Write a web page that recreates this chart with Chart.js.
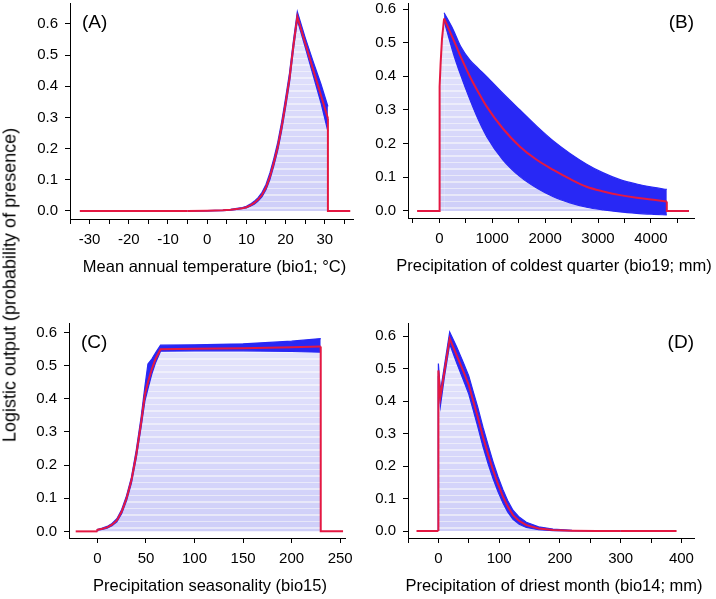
<!DOCTYPE html>
<html>
<head>
<meta charset="utf-8">
<script src="https://cdn.jsdelivr.net/npm/chart.js@4.4.1/dist/chart.umd.min.js"></script>
<style>
  body { margin: 0; background: #fff; }
  #wrap { position: relative; width: 716px; height: 599px; }
  canvas { position: absolute; }
  #ylab {
    position: absolute; left: 10px; top: 285px;
    transform: translate(-50%, -50%) rotate(-90deg);
    white-space: nowrap; color: #000;
    font: 18px Arial, "Liberation Sans", sans-serif;
  }
</style>
</head>
<body>
<div id="wrap">
  <canvas id="chartA" width="340" height="279" style="left:20px;top:0px"></canvas>
  <canvas id="chartB" width="358" height="278" style="left:358px;top:0px"></canvas>
  <canvas id="chartC" width="336" height="278" style="left:19px;top:320px"></canvas>
  <canvas id="chartD" width="358" height="278" style="left:358px;top:320px"></canvas>
  <div id="ylab">Logistic output (probability of presence)</div>
</div>
<script>
// (A) mean annual temperature
const xA = [-5, 0, 4, 6, 8, 9, 10, 11, 12, 13, 14, 15, 16, 17, 18, 19, 20, 21, 22, 23, 25, 27, 29, 30.8];
const meanA = [0, 0.0005, 0.002, 0.004, 0.007, 0.009, 0.012, 0.018, 0.026, 0.037, 0.052, 0.075, 0.11, 0.155, 0.205, 0.27, 0.345, 0.425, 0.53, 0.623, 0.538, 0.455, 0.372, 0.297];
const upperA = [0, 0.001, 0.003, 0.005, 0.009, 0.011, 0.015, 0.022, 0.031, 0.043, 0.06, 0.085, 0.122, 0.168, 0.22, 0.286, 0.362, 0.442, 0.546, 0.639, 0.556, 0.48, 0.408, 0.335];
const lowerA = [0, 0.0003, 0.001, 0.003, 0.006, 0.008, 0.01, 0.015, 0.022, 0.032, 0.046, 0.068, 0.101, 0.145, 0.194, 0.258, 0.332, 0.412, 0.518, 0.612, 0.526, 0.437, 0.348, 0.255];
const endsA = [-32.5, 36.5];
const xTicksA = [-35, -30, -25, -20, -15, -10, -5, 0, 5, 10, 15, 20, 25, 30, 35];
const xLabelsA = [-30, -20, -10, 0, 10, 20, 30];

// (B) precipitation of coldest quarter (first 6 points = steep rise up to the peak)
const xB = [0, 1, 10, 25, 50, 90, 265, 400, 580, 740, 896, 1200, 1525, 1840, 2155, 2470, 2785, 3100, 3416, 3730, 4050, 4300];
const meanB = [0, 0.30, 0.37, 0.44, 0.51, 0.572, 0.51, 0.46, 0.399, 0.352, 0.31, 0.245, 0.191, 0.152, 0.122, 0.095, 0.072, 0.058, 0.047, 0.039, 0.033, 0.028];
const upperB = [0, 0.31, 0.38, 0.45, 0.525, 0.589, 0.538, 0.49, 0.448, 0.423, 0.399, 0.35, 0.30, 0.252, 0.208, 0.171, 0.139, 0.113, 0.093, 0.08, 0.07, 0.064];
const lowerB = [0, 0.29, 0.36, 0.43, 0.50, 0.565, 0.468, 0.405, 0.33, 0.27, 0.221, 0.152, 0.102, 0.068, 0.042, 0.024, 0.011, 0.003, -0.003, -0.007, -0.01, -0.012];
const endsB = [-420, 4720];
const xTicksB = [-500, 0, 500, 1000, 1500, 2000, 2500, 3000, 3500, 4000, 4500];
const xLabelsB = [0, 1000, 2000, 3000, 4000];

// (C) precipitation seasonality
const xC = [0, 0, 5, 10, 15, 20, 25, 30, 35, 40, 45, 49, 52, 56, 60, 65, 100, 150, 200, 230];
const meanC = [0, 0.005, 0.008, 0.012, 0.02, 0.033, 0.06, 0.1, 0.154, 0.232, 0.328, 0.415, 0.45, 0.49, 0.522, 0.55, 0.551, 0.553, 0.556, 0.558];
const upperC = [0, 0.006, 0.01, 0.015, 0.024, 0.038, 0.066, 0.108, 0.163, 0.245, 0.345, 0.44, 0.505, 0.52, 0.54, 0.562, 0.563, 0.566, 0.574, 0.582];
const lowerC = [0, 0.004, 0.006, 0.01, 0.017, 0.029, 0.054, 0.093, 0.146, 0.222, 0.315, 0.395, 0.43, 0.475, 0.51, 0.544, 0.545, 0.545, 0.543, 0.541];
const endsC = [-22.4, 253];
const xTicksC = [0, 50, 100, 150, 200, 250];
const xLabelsC = [0, 50, 100, 150, 200, 250];

// (D) precipitation of driest month
const xD = [0, 0, 3.3, 10, 18.6, 30, 40.5, 50, 57, 65, 73.4, 82, 89.9, 98, 106.3, 114, 122.8, 133, 144.8, 165, 188.6, 220, 260, 300];
const meanD = [0, 0.495, 0.413, 0.492, 0.593, 0.542, 0.495, 0.45, 0.403, 0.35, 0.29, 0.235, 0.188, 0.145, 0.106, 0.076, 0.049, 0.031, 0.018, 0.008, 0.003, 0.001, 0, 0];
const upperD = [0, 0.516, 0.43, 0.51, 0.613, 0.568, 0.522, 0.478, 0.432, 0.38, 0.32, 0.264, 0.214, 0.168, 0.127, 0.094, 0.064, 0.043, 0.027, 0.013, 0.006, 0.002, 0.001, 0];
const lowerD = [0, 0.478, 0.385, 0.476, 0.576, 0.518, 0.468, 0.422, 0.375, 0.32, 0.26, 0.206, 0.162, 0.122, 0.086, 0.059, 0.036, 0.021, 0.011, 0.004, 0.001, 0, 0, 0];
const endsD = [-36, 392];
const xTicksD = [-50, 0, 50, 100, 150, 200, 250, 300, 350, 400];
const xLabelsD = [0, 100, 200, 300, 400];

const yTicks = [0, 0.1, 0.2, 0.3, 0.4, 0.5, 0.6];

const FONT = 'Arial, "Liberation Sans", sans-serif';
Chart.defaults.font.family = FONT;
Chart.defaults.color = '#000';

const RED = 'rgb(228, 24, 66)';
const BLUE = 'rgb(40, 40, 245)';

// panel letter and the (wide) x-axis title, drawn without the scale's width limit
const panelText = {
    id: 'panelText',
    afterDraw(chart, args, opts) {
        const { ctx, chartArea } = chart;
        ctx.save();
        ctx.fillStyle = '#000';
        ctx.textBaseline = 'middle';
        ctx.font = '19px ' + FONT;
        ctx.textAlign = opts.side;
        const x = opts.side === 'left' ? chartArea.left + 12 : chartArea.right;
        ctx.fillText(opts.tag, x, chartArea.top + 20);
        ctx.font = '16.5px ' + FONT;
        ctx.textAlign = 'center';
        ctx.fillText(opts.title, (chartArea.left + chartArea.right) / 2 + 3, chartArea.bottom + 48);
        ctx.restore();
    }
};

// light lavender fill with faint horizontal streaks
function lavender(context) {
    const chart = context.chart;
    if (chart.$lavender) return chart.$lavender;
    const h = chart.height;
    const c = document.createElement('canvas');
    c.width = 1;
    c.height = h;
    const g = c.getContext('2d');
    for (let i = 0; i < h; i++) {
        const t = i / h;
        let v = 232 - 34 * t;
        if ((i * 37) % 13 < 3) v = v + (255 - v) * 0.5;
        g.fillStyle = 'rgb(' + Math.round(v) + ',' + Math.round(v) + ',' + Math.round(252 - 4 * t) + ')';
        g.fillRect(0, i, 1, 1);
    }
    chart.$lavender = chart.ctx.createPattern(c, 'repeat');
    return chart.$lavender;
}

function pts(xs, ys) {
    return xs.map((x, i) => ({ x: x, y: ys[i] }));
}

function makePanel(id, p) {
    const last = p.x.length - 1;
    const k = p.rise || 0;
    const mode = p.smooth ? 'monotone' : 'default';
    // flat zero line before the data, plus the steep rise when it is kept out of the smoothing
    const leftPart = [{ x: p.ends[0], y: 0 }].concat(pts(p.x.slice(0, k + 1), p.mean.slice(0, k + 1)));
    const rightDrop = [{ x: p.x[last], y: p.mean[last] }, { x: p.x[last], y: 0 }, { x: p.ends[1], y: 0 }];
    const xs = p.x.slice(k);

    new Chart(document.getElementById(id), {
        type: 'line',
        data: {
            datasets: [
                { data: leftPart, borderColor: RED, borderWidth: 2, backgroundColor: lavender, fill: k > 0 ? 'origin' : false },
                { data: rightDrop, borderColor: RED, borderWidth: 2, fill: false },
                { data: pts(xs, p.mean.slice(k)), borderColor: RED, borderWidth: 2, fill: false, cubicInterpolationMode: mode },
                { data: pts(xs, p.upper.slice(k)), borderColor: BLUE, borderWidth: 1.2, backgroundColor: BLUE, fill: '+1', cubicInterpolationMode: mode },
                { data: pts(xs, p.lower.slice(k)), borderColor: BLUE, borderWidth: 1.2, backgroundColor: lavender, fill: 'origin', cubicInterpolationMode: mode }
            ]
        },
        options: {
            responsive: false,
            animation: false,
            parsing: false,
            elements: { point: { radius: 0 }, line: { tension: 0 } },
            layout: { padding: { left: 0, right: p.padRight, top: 3, bottom: 0 } },
            plugins: {
                legend: { display: false },
                tooltip: { enabled: false },
                panelText: { tag: p.tag, side: p.side, title: p.title }
            },
            scales: {
                x: {
                    type: 'linear',
                    min: p.xMin,
                    max: p.xMax,
                    afterBuildTicks: axis => { axis.ticks = p.xTicks.map(v => ({ value: v })); },
                    afterFit: scale => { scale.height = 60; scale.paddingLeft = 0; scale.paddingRight = 0; },
                    ticks: {
                        autoSkip: false,
                        maxRotation: 0,
                        padding: 7,
                        font: { size: 15 },
                        callback: v => (p.xLabels.includes(v) ? String(v) : '')
                    },
                    grid: { drawOnChartArea: false, tickLength: 5, color: '#000' },
                    border: { color: '#000', width: 1 }
                },
                y: {
                    min: p.yMin,
                    max: p.yMax,
                    afterBuildTicks: axis => { axis.ticks = yTicks.map(v => ({ value: v })); },
                    afterFit: scale => { scale.width = 50; scale.paddingTop = 0; scale.paddingBottom = 0; },
                    ticks: { padding: 7, font: { size: 15 }, callback: v => v.toFixed(1) },
                    grid: { drawOnChartArea: false, tickLength: 5, color: '#000' },
                    border: { color: '#000', width: 1 }
                }
            }
        },
        plugins: [panelText]
    });
}

makePanel('chartA', {
    x: xA, mean: meanA, upper: upperA, lower: lowerA, ends: endsA, smooth: false,
    xTicks: xTicksA, xLabels: xLabelsA, xMin: -35, xMax: 37.2, yMin: -0.0257, yMax: 0.667,
    title: 'Mean annual temperature (bio1; °C)', tag: '(A)', side: 'left', padRight: 7
});
makePanel('chartB', {
    x: xB, mean: meanB, upper: upperB, lower: lowerB, ends: endsB, smooth: true, rise: 5,
    xTicks: xTicksB, xLabels: xLabelsB, xMin: -592, xMax: 4814, yMin: -0.021, yMax: 0.618,
    title: 'Precipitation of coldest quarter (bio19; mm)', tag: '(B)', side: 'right', padRight: 22
});
makePanel('chartC', {
    x: xC, mean: meanC, upper: upperC, lower: lowerC, ends: endsC, smooth: false,
    xTicks: xTicksC, xLabels: xLabelsC, xMin: -29.3, xMax: 255, yMin: -0.020, yMax: 0.629,
    title: 'Precipitation seasonality (bio15)', tag: '(C)', side: 'left', padRight: 10
});
makePanel('chartD', {
    x: xD, mean: meanD, upper: upperD, lower: lowerD, ends: endsD, smooth: false,
    xTicks: xTicksD, xLabels: xLabelsD, xMin: -50, xMax: 420.7, yMin: -0.0215, yMax: 0.641,
    title: 'Precipitation of driest month (bio14; mm)', tag: '(D)', side: 'right', padRight: 22
});
</script>
</body>
</html>
